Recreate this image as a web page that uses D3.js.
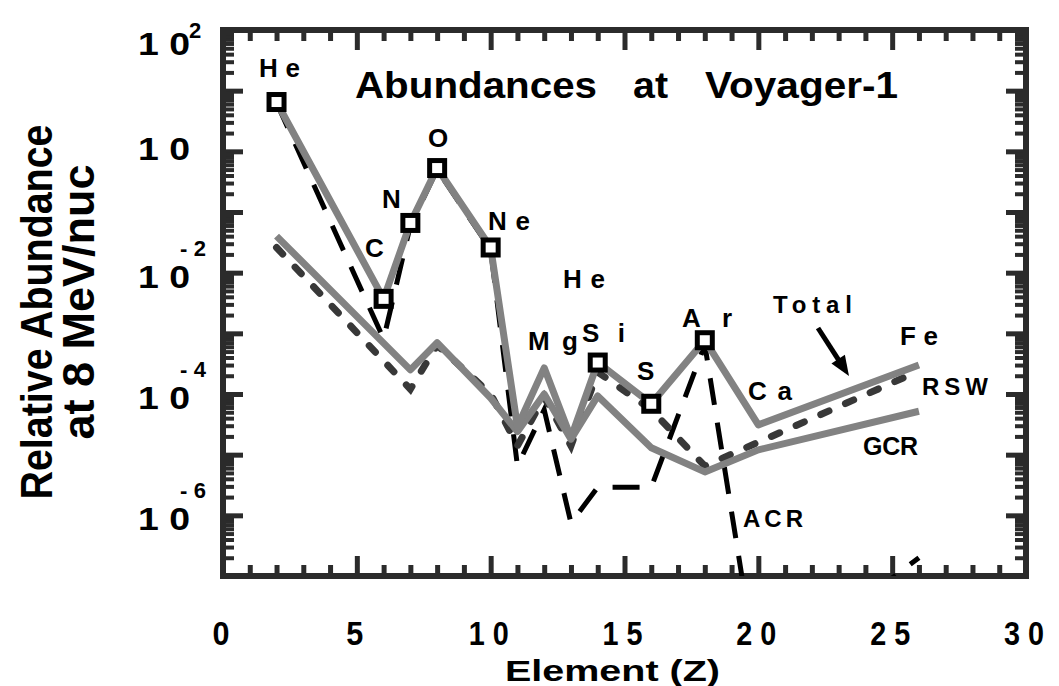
<!DOCTYPE html>
<html><head><meta charset="utf-8">
<script src="https://cdn.jsdelivr.net/npm/d3@7"></script>
<style>
html,body{margin:0;padding:0;background:#fff;}
text{font-family:"Liberation Sans",Arial,Helvetica,sans-serif;font-weight:bold;fill:#000;}
</style></head>
<body>
<svg id="chart" width="1059" height="686"></svg>
<script>
// ---- data (Element Z and relative abundance) ----
const zTotal = [2, 6, 7, 8, 10, 11, 12, 13, 14, 16, 18, 20, 26];
const total  = [6.5, 3.7e-3, 6.6e-2, 0.53, 2.6e-2, 2.9e-5, 2.7e-4, 1.9e-5, 3.3e-4, 6.9e-5, 7.7e-4, 3.1e-5, 3.0e-4];
const zMarked = [2, 6, 7, 8, 10, 14, 16, 18];

const zGCR = [2, 7, 8, 10, 11, 12, 13, 14, 16, 18, 20, 26];
const gcr  = [0.040, 2.5e-4, 7.0e-4, 8.6e-5, 2.4e-5, 1.0e-4, 1.8e-5, 9.3e-5, 1.3e-5, 5.2e-6, 1.2e-5, 5.2e-5];

const zRSW = [2, 7, 8, 10, 11, 12, 13, 14, 16, 18, 26];
const rsw  = [0.026, 1.2e-4, 6.4e-4, 1.0e-4, 1.4e-5, 8.9e-5, 1.4e-5, 2.3e-4, 5.5e-5, 6.5e-6, 2.4e-4];

const zACR = [2, 6, 7, 8, 10, 11, 12, 13, 14, 16, 18, 20, 26];
const acr  = [6.3, 8.1e-4, 6.0e-2, 0.50, 2.4e-2, 6.5e-6, 5.5e-5, 7.5e-7, 2.9e-6, 2.9e-6, 6.5e-4, 2e-9, 2.0e-7];

const xTickLabels = ["0", "5", "1 0", "1 5", "2 0", "2 5", "3 0"];
const xTickValues = [0, 5, 10, 15, 20, 25, 30];
const yTickExps = [2, 0, -2, -4, -6];

// ---- layout ----
const svg = d3.select("#chart");
const L = 223, R = 1026, T = 30, B = 576;
const x = d3.scaleLinear().domain([0, 30]).range([L, R]);
const y = d3.scaleLog().domain([1e-7, 1e2]).range([B, T]);
const frameColor = "#2b2b2b";
const gray = "#828282";

svg.append("defs").append("clipPath").attr("id", "plotclip")
  .append("rect").attr("x", L).attr("y", T).attr("width", R - L).attr("height", B - T);

// ticks
const majorX = d3.range(0, 31, 5), minorX = d3.range(0, 31).filter(v => v % 5 !== 0);
const majorY = d3.range(-7, 3).map(e => Math.pow(10, e));
const minorY = [];
for (let e = -7; e < 2; e++) for (let k = 2; k <= 9; k++) minorY.push(k * Math.pow(10, e));

function styleAxis(g, w) {
  g.select(".domain").remove();
  g.selectAll(".tick line").attr("stroke", frameColor).attr("stroke-width", w);
  g.selectAll(".tick text").remove();
}
svg.append("g").attr("transform", `translate(0,${B})`)
  .call(d3.axisBottom(x).tickValues(majorX).tickSize(-20).tickFormat("")).call(g => styleAxis(g, 5));
svg.append("g").attr("transform", `translate(0,${B})`)
  .call(d3.axisBottom(x).tickValues(minorX).tickSize(-11).tickFormat("")).call(g => styleAxis(g, 5));
svg.append("g").attr("transform", `translate(0,${T})`)
  .call(d3.axisTop(x).tickValues(majorX).tickSize(-20).tickFormat("")).call(g => styleAxis(g, 5));
svg.append("g").attr("transform", `translate(0,${T})`)
  .call(d3.axisTop(x).tickValues(minorX).tickSize(-11).tickFormat("")).call(g => styleAxis(g, 5));
svg.append("g").attr("transform", `translate(${L},0)`)
  .call(d3.axisLeft(y).tickValues(majorY).tickSize(-20).tickFormat("")).call(g => styleAxis(g, 5));
svg.append("g").attr("transform", `translate(${L},0)`)
  .call(d3.axisLeft(y).tickValues(minorY).tickSize(-11).tickFormat("")).call(g => styleAxis(g, 4));
svg.append("g").attr("transform", `translate(${R},0)`)
  .call(d3.axisRight(y).tickValues(majorY).tickSize(-20).tickFormat("")).call(g => styleAxis(g, 5));
svg.append("g").attr("transform", `translate(${R},0)`)
  .call(d3.axisRight(y).tickValues(minorY).tickSize(-11).tickFormat("")).call(g => styleAxis(g, 4));

svg.append("rect").attr("x", L).attr("y", T).attr("width", R - L).attr("height", B - T)
  .attr("fill", "none").attr("stroke", frameColor).attr("stroke-width", 6);

// ---- series ----
const plot = svg.append("g").attr("clip-path", "url(#plotclip)");
const line = d3.line().x(d => x(d[0])).y(d => y(d[1]));
const pairs = (zs, vs) => zs.map((z, i) => [z, vs[i]]);

plot.append("path").datum(pairs(zACR, acr)).attr("d", line)
  .attr("fill", "none").attr("stroke", "#000").attr("stroke-width", 5)
  .attr("stroke-dasharray", "27,18");
plot.append("path").datum(pairs(zRSW, rsw)).attr("d", line)
  .attr("fill", "none").attr("stroke", "#383838").attr("stroke-width", 7)
  .attr("stroke-linecap", "round").attr("stroke-dasharray", "9,18");
plot.append("path").datum(pairs(zGCR, gcr)).attr("d", line)
  .attr("fill", "none").attr("stroke", gray).attr("stroke-width", 7).attr("stroke-linejoin", "round");
plot.append("path").datum(pairs(zTotal, total)).attr("d", line)
  .attr("fill", "none").attr("stroke", gray).attr("stroke-width", 7).attr("stroke-linejoin", "round");

const marked = zTotal.map((z, i) => [z, total[i]]).filter(d => zMarked.includes(d[0]));
plot.selectAll("rect.mk").data(marked).join("rect").attr("class", "mk")
  .attr("x", d => x(d[0]) - 7.5).attr("y", d => y(d[1]) - 7.5)
  .attr("width", 15).attr("height", 15)
  .attr("fill", "#fff").attr("stroke", "#000").attr("stroke-width", 5);

// ---- axis labels ----
xTickValues.forEach((v, i) => {
  const lab = xTickLabels[i];
  svg.append("text").attr("x", x(v) - 2).attr("y", 645).attr("text-anchor", "middle")
    .attr("font-size", 33).attr("textLength", lab.length > 1 ? 40 : 17)
    .attr("lengthAdjust", "spacingAndGlyphs").text(lab);
});
svg.append("text").attr("x", 505).attr("y", 681).attr("font-size", 30)
  .attr("textLength", 215).attr("lengthAdjust", "spacingAndGlyphs").text("Element   (Z)");

yTickExps.forEach(e => {
  const ty = y(Math.pow(10, e));
  const base = e === 2 ? 55 : (e === 0 ? ty + 9 : ty + 15);
  svg.append("text").attr("x", 138).attr("y", base).attr("font-size", 32)
    .attr("textLength", 52).attr("lengthAdjust", "spacingAndGlyphs").text("1 0");
  if (e === 2) {
    svg.append("text").attr("x", 189).attr("y", 38).attr("font-size", 22).text("2");
  } else if (e < 0) {
    svg.append("text").attr("x", 180).attr("y", ty - 17).attr("font-size", 22)
      .attr("textLength", 26).text("- " + (-e));
  }
});

svg.append("text").attr("transform", "translate(52,312) rotate(-90)").attr("text-anchor", "middle")
  .attr("font-size", 44).attr("textLength", 375).attr("lengthAdjust", "spacingAndGlyphs")
  .text("Relative  Abundance");
svg.append("text").attr("transform", "translate(94,302) rotate(-90)").attr("text-anchor", "middle")
  .attr("font-size", 44).attr("textLength", 275).attr("lengthAdjust", "spacingAndGlyphs")
  .text("at  8  MeV/nuc");

// ---- title ----
const titleWords = [["Abundances", 355, 242], ["at", 633, 35], ["Voyager-1", 705, 193]];
titleWords.forEach(([t, tx, tl]) => {
  svg.append("text").attr("x", tx).attr("y", 98).attr("font-size", 36)
    .attr("textLength", tl).attr("lengthAdjust", "spacingAndGlyphs").text(t);
});

// ---- annotations ----
const notes = [
  ["He", 259, 77, 26, 41], ["C", 365, 257, 26, 18], ["N", 382, 208, 26, 17],
  ["O", 428, 147, 26, 20], ["Ne", 488, 230, 26, 42], ["He", 563, 288, 26, 42],
  ["Mg", 528, 350, 26, 50], ["Si", 582, 342, 26, 43], ["S", 637, 380, 26, 18],
  ["Ar", 682, 327, 26, 50], ["Ca", 748, 400, 26, 44], ["Total", 773, 313, 24, 79],
  ["Fe", 900, 345, 26, 38], ["RSW", 922, 395, 24, 66], ["GCR", 863, 455, 25, 55],
  ["ACR", 743, 527, 24, 60]
];
notes.forEach(([t, tx, ty, fs, tl]) => {
  svg.append("text").attr("x", tx).attr("y", ty).attr("font-size", fs)
    .attr("textLength", tl).text(t);
});

// arrow
const ax0 = 818, ay0 = 328, ax1 = 849, ay1 = 376;
const dx = ax1 - ax0, dy = ay1 - ay0, len = Math.hypot(dx, dy), ux = dx / len, uy = dy / len;
const hl = 20, hw = 8;
svg.append("line").attr("x1", ax0).attr("y1", ay0)
  .attr("x2", ax1 - ux * hl * 0.8).attr("y2", ay1 - uy * hl * 0.8)
  .attr("stroke", "#000").attr("stroke-width", 5);
svg.append("path").attr("d",
  `M${ax1},${ay1} L${ax1 - ux * hl - uy * hw},${ay1 - uy * hl + ux * hw} L${ax1 - ux * hl + uy * hw},${ay1 - uy * hl - ux * hw} Z`)
  .attr("fill", "#000");
</script>
</body></html>
